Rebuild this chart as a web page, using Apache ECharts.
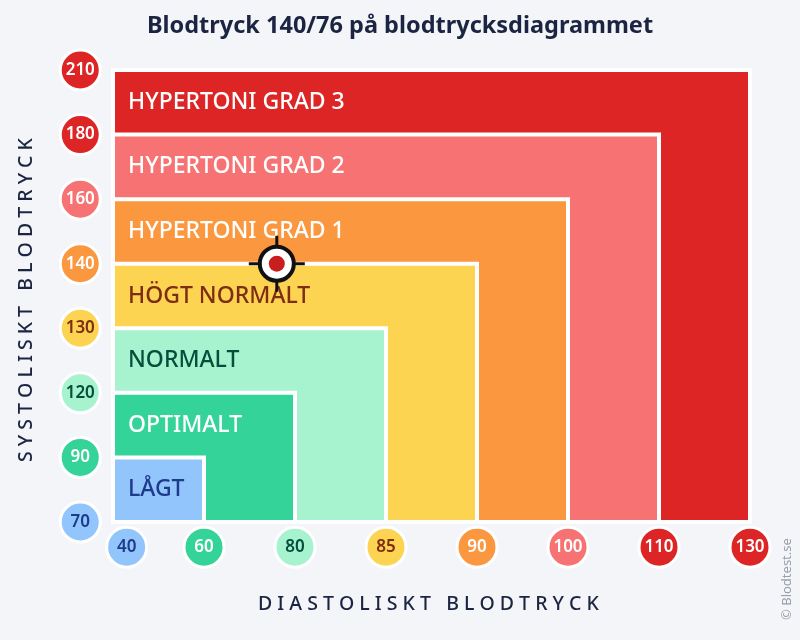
<!DOCTYPE html>
<html><head><meta charset="utf-8">
<script src="https://cdn.jsdelivr.net/npm/echarts@6/dist/echarts.min.js"></script>
<style>html,body{margin:0;padding:0;background:#f3f5f9}#c{width:800px;height:640px}</style>
</head><body><div id="c"></div>
<script>
const bandNames = ['LÅGT','OPTIMALT','NORMALT','HÖGT NORMALT','HYPERTONI GRAD 1','HYPERTONI GRAD 2','HYPERTONI GRAD 3'];
const bandFill = ['#93c5fd','#34d399','#a7f3d0','#fdd451','#fb973f','#f77272','#dd2525'];
const bandText = ['#1e3a8a','#ffffff','#064e3b','#7c2d12','#ffffff','#ffffff','#ffffff'];
const sysTicks = ['70','90','120','130','140','160','180','210'];
const sysPos = [0,1,2,3,4,5,6,7];
const sysFill = ['#93c5fd','#34d399','#a7f3d0','#fdd451','#fb973f','#f77272','#dd2525','#dd2525'];
const sysText = ['#1e3a8a','#ffffff','#064e3b','#7c2d12','#ffffff','#ffffff','#ffffff','#ffffff'];
const diaTicks = ['40','60','80','85','90','100','110','130'];
const diaPos = [0.15,1,2,3,4,5,6,7];
const diaFill = ['#93c5fd','#34d399','#a7f3d0','#fdd451','#fb973f','#f77272','#dd2525','#dd2525'];
const diaText = ['#1e3a8a','#ffffff','#064e3b','#7c2d12','#ffffff','#ffffff','#ffffff','#ffffff'];
const reading = [1.8, 4]; // 140/76
const F = '"Noto Sans", sans-serif';

const chart = echarts.init(document.getElementById('c'));
const bands = bandNames.map((n,i)=>({value:[i+1,i+1,i], name:n})).reverse();
chart.setOption({
  backgroundColor:'#f3f5f9',
  animation:false,
  title:{text:'Blodtryck 140/76 på blodtrycksdiagrammet',left:'center',top:9,
    textStyle:{fontFamily:F,fontSize:23.5,fontWeight:'bold',color:'#1b2440'}},
  grid:{left:113,right:50,top:70,bottom:118},
  xAxis:{type:'value',min:0,max:7,show:false},
  yAxis:{type:'value',min:0,max:7,show:false},
  graphic:[
    {type:'text',x:16,y:462,rotation:Math.PI/2,style:{text:'S Y S T O L I S K T   B L O D T R Y C K',font:'500 19.5px "Noto Sans"',fill:'#1b2440'}},
    {type:'text',left:258,top:594,style:{text:'D I A S T O L I S K T   B L O D T R Y C K',font:'500 19.5px "Noto Sans"',fill:'#1b2440'}},
    {type:'text',right:6,bottom:20,rotation:Math.PI/2,style:{text:'© Blodtest.se',font:'13px "Noto Sans"',fill:'#9aa0aa'}}
  ],
  series:[
    {type:'custom',clip:false,data:bands,
     renderItem:(p,api)=>{
       const x=api.value(0),y=api.value(1),i=api.value(2);
       const o=api.coord([0,0]),e=api.coord([x,y]),mid=api.coord([0,y-0.5]);
       return {type:'group',children:[
         {type:'rect',shape:{x:o[0],y:e[1],width:e[0]-o[0],height:o[1]-e[1]},
          style:{fill:bandFill[i],stroke:'#fff',lineWidth:4}},
         {type:'text',x:mid[0]+15,y:mid[1],style:{text:bandNames[i],font:'500 23px "Noto Sans"',fill:bandText[i],verticalAlign:'middle'}}
       ]};
     }},
    {type:'scatter',clip:false,symbolSize:40,z:5,
     data:sysPos.map((v,i)=>({value:[-0.36,v],itemStyle:{color:sysFill[i]},label:{color:sysText[i]}})),
     itemStyle:{borderColor:'#fff',borderWidth:3,opacity:1},
     label:{show:true,position:'inside',fontFamily:F,fontSize:17,fontWeight:600,formatter:p=>sysTicks[p.dataIndex]}},
    {type:'scatter',clip:false,symbolSize:40,z:5,
     data:diaPos.map((v,i)=>({value:[v,-0.39],itemStyle:{color:diaFill[i]},label:{color:diaText[i]}})),
     itemStyle:{borderColor:'#fff',borderWidth:3,opacity:1},
     label:{show:true,position:'inside',fontFamily:F,fontSize:17,fontWeight:600,formatter:p=>diaTicks[p.dataIndex]}},
    {type:'custom',clip:false,z:10,data:[reading],
     renderItem:(p,api)=>{
       const c=api.coord([api.value(0),api.value(1)]);
       return {type:'group',x:c[0],y:c[1],children:[
         {type:'line',shape:{x1:-28,y1:0,x2:28,y2:0},style:{stroke:'#111',lineWidth:3}},
         {type:'line',shape:{x1:0,y1:-28,x2:0,y2:28},style:{stroke:'#111',lineWidth:3}},
         {type:'circle',shape:{cx:0,cy:0,r:17},style:{fill:'#fff',stroke:'#111',lineWidth:4}},
         {type:'circle',shape:{cx:0,cy:0,r:8},style:{fill:'#c81e1e'}}
       ]};
     }}
  ]
});
</script></body></html>
